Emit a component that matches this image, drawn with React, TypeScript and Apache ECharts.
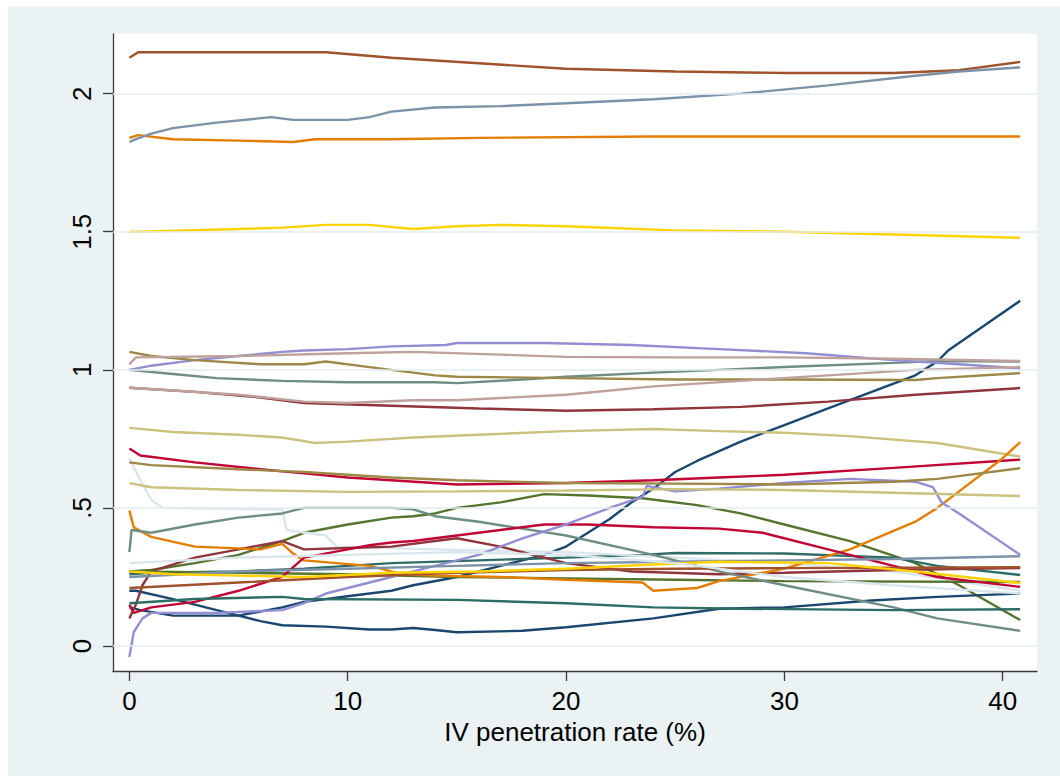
import React, { useEffect, useRef } from "react";
import * as echarts from "echarts";

type P = [number, number];

// Stata s2color palette
const COLORS = [
  "#1a476f", "#90353b", "#55752f", "#e37e00", "#6e8e84",
  "#c10534", "#938dd2", "#cac27e", "#a0522d", "#7b92a8",
  "#2d6d66", "#9c8847", "#bfa19c", "#ffd200", "#d9e6eb",
];

const X_TICKS = [0, 10, 20, 30, 40];
const Y_TICKS = [0, 0.5, 1, 1.5, 2];
const Y_TICK_LABELS = ["0", ".5", "1", "1.5", "2"];
const X_TITLE = "IV penetration rate (%)";

// cycle 1
const navyA: P[] = [[0,0.14],[0.5,0.13],[2,0.11],[5,0.11],[7,0.14],[8,0.16],[10,0.18],[12,0.2],[13,0.22],[15,0.25],[17,0.29],[19,0.33],[20,0.36],[21,0.41],[22,0.46],[23,0.52],[24,0.57],[25,0.63],[26,0.67],[28,0.74],[30,0.8],[32,0.86],[34,0.92],[36,0.98],[37,1.03],[37.5,1.07],[40.8,1.25]];
const maroonA: P[] = [[0,0.935],[3,0.92],[6,0.9],[8,0.88],[12,0.87],[16,0.86],[20,0.852],[24,0.857],[28,0.866],[32,0.885],[36,0.91],[40.8,0.934]];
const forestA: P[] = [[0,0.27],[1,0.275],[3,0.3],[5,0.33],[7,0.38],[8,0.41],[10,0.44],[12,0.465],[13,0.47],[14,0.48],[15,0.5],[17,0.52],[19,0.55],[21,0.545],[23.5,0.535],[26,0.51],[28,0.48],[30,0.44],[33,0.38],[36,0.3],[38,0.22],[40.8,0.094]];
const orangeA: P[] = [[0,1.84],[0.4,1.85],[2,1.835],[5,1.83],[7.5,1.825],[8.5,1.835],[12,1.835],[16,1.84],[24,1.845],[30,1.845],[40.8,1.845]];
const tealA: P[] = [[0,1.0],[2,0.985],[4,0.97],[7,0.96],[10,0.955],[14,0.955],[15,0.952],[18,0.965],[20,0.975],[24,0.99],[27,1.0],[30,1.01],[35,1.025],[37,1.032],[40.8,1.03]];
const cranberryA: P[] = [[0,0.715],[0.5,0.69],[3,0.665],[6,0.64],[8,0.625],[10,0.61],[12,0.6],[15,0.585],[20,0.59],[24,0.6],[27,0.61],[30,0.62],[35,0.645],[40.8,0.675]];
const lavenderA: P[] = [[0,1.0],[1,1.015],[3,1.035],[5,1.05],[7,1.065],[8,1.07],[10,1.075],[12,1.085],[14.5,1.09],[15,1.097],[19,1.097],[23,1.09],[27,1.075],[31,1.06],[35,1.035],[38,1.02],[40.8,1.005]];
const khakiA: P[] = [[0,0.79],[2,0.775],[5,0.765],[7,0.755],[8.5,0.735],[10,0.74],[13,0.755],[16,0.765],[20,0.778],[24,0.786],[27,0.778],[30,0.772],[33,0.76],[37,0.735],[40.8,0.686]];
const siennaA: P[] = [[0,2.13],[0.4,2.15],[5,2.15],[9,2.15],[12,2.13],[16,2.11],[20,2.09],[25,2.08],[30,2.075],[35,2.075],[38,2.085],[40.8,2.115]];
const emidblueA: P[] = [[0,1.825],[0.3,1.835],[1,1.855],[2,1.875],[4,1.895],[6.5,1.915],[7.5,1.905],[10,1.905],[11,1.915],[12,1.935],[14,1.95],[17,1.955],[20,1.965],[24,1.98],[28,2.0],[32,2.03],[36,2.065],[38,2.08],[40.8,2.095]];
const emeraldA: P[] = [[0,0.26],[1,0.265],[5,0.27],[8,0.28],[12,0.3],[16,0.31],[20,0.32],[23.5,0.33],[25,0.337],[30,0.335],[35,0.32],[37,0.29],[40.8,0.257]];
const brownA: P[] = [[0,1.065],[1,1.05],[3,1.035],[6,1.02],[8,1.02],[9,1.03],[11,1.01],[13,0.99],[14,0.98],[15,0.975],[20,0.97],[25,0.965],[30,0.965],[36,0.963],[37,0.97],[40.8,0.988]];
const eroseA: P[] = [[0,1.02],[0.3,1.045],[5,1.05],[10,1.06],[13,1.065],[17,1.055],[20,1.047],[25,1.045],[30,1.045],[35,1.04],[40.8,1.032]];
const goldA: P[] = [[0,1.5],[0.5,1.5],[5,1.51],[7,1.515],[9,1.525],[11,1.525],[13,1.51],[15,1.52],[17,1.525],[20,1.52],[25,1.505],[30,1.5],[35,1.49],[40.8,1.478]];
const bluishgrayA: P[] = [[0,0.68],[0.5,0.6],[1,0.53],[1.5,0.5],[7,0.495],[7.2,0.42],[9,0.4],[9.5,0.36],[14,0.35],[20,0.34],[25,0.32],[30,0.3],[35,0.27],[40.8,0.2]];

// cycle 2
const navyB: P[] = [[0,0.2],[0.3,0.2],[2,0.17],[4,0.13],[6,0.09],[7,0.075],[9,0.07],[11,0.06],[12,0.06],[13,0.065],[14,0.058],[15,0.05],[18,0.055],[20,0.068],[24,0.1],[27,0.135],[30,0.14],[34,0.165],[37,0.178],[40.8,0.19]];
const maroonB: P[] = [[0,0.1],[0.3,0.15],[0.6,0.22],[1,0.27],[3,0.32],[5,0.35],[7,0.38],[8,0.35],[10,0.355],[12,0.36],[14,0.38],[15,0.39],[17,0.36],[20,0.3],[23,0.27],[27,0.26],[30,0.265],[35,0.275],[40.8,0.282]];
const forestB: P[] = [[0,0.27],[5,0.265],[10,0.26],[15,0.25],[20,0.245],[25,0.24],[30,0.235],[40.8,0.232]];
const orangeB: P[] = [[0,0.49],[0.2,0.43],[1,0.395],[3,0.36],[6,0.35],[7,0.37],[7.5,0.335],[8,0.31],[11,0.29],[12.5,0.26],[14,0.255],[17,0.25],[20,0.24],[23.5,0.23],[24,0.2],[26,0.21],[27,0.235],[30,0.28],[33,0.35],[36,0.45],[37,0.5],[38,0.56],[40,0.68],[40.8,0.738]];
const tealB: P[] = [[0,0.34],[0.1,0.42],[1,0.41],[3,0.44],[5,0.465],[7,0.48],[8,0.5],[12,0.5],[13,0.495],[14,0.47],[16,0.45],[20,0.4],[24,0.33],[27,0.27],[30,0.22],[35,0.14],[37,0.1],[40.8,0.055]];
const cranberryB: P[] = [[0,0.15],[0.2,0.12],[1,0.14],[3,0.16],[5,0.2],[7,0.25],[8,0.32],[10,0.35],[11,0.365],[12,0.375],[13,0.38],[14,0.39],[16,0.41],[19,0.44],[21,0.44],[24,0.43],[27,0.425],[29,0.41],[32,0.35],[35,0.29],[37,0.25],[40.8,0.214]];
const lavenderB: P[] = [[0,-0.04],[0.2,0.05],[0.6,0.1],[1,0.12],[4,0.12],[7,0.13],[8,0.155],[9,0.19],[10,0.21],[12,0.25],[13,0.27],[16,0.33],[18,0.39],[20,0.44],[22,0.5],[23.5,0.54],[23.7,0.58],[25,0.56],[27,0.57],[30,0.59],[33,0.605],[36,0.595],[36.8,0.575],[37.2,0.52],[38,0.48],[40.8,0.33]];
const khakiB: P[] = [[0,0.59],[1,0.575],[5,0.565],[10,0.558],[15,0.56],[20,0.563],[25,0.568],[30,0.565],[35,0.555],[40.8,0.543]];
const siennaB: P[] = [[0,0.21],[5,0.23],[10,0.25],[15,0.265],[20,0.275],[25,0.28],[30,0.282],[40.8,0.285]];
const emidblueB: P[] = [[0,0.25],[5,0.27],[10,0.28],[15,0.29],[20,0.3],[25,0.305],[30,0.31],[35,0.315],[40.8,0.325]];
const emeraldB: P[] = [[0,0.155],[3,0.17],[7,0.178],[8,0.17],[15,0.167],[20,0.155],[24,0.14],[28,0.135],[35,0.13],[40.8,0.133]];
const brownB: P[] = [[0,0.665],[1,0.655],[5,0.64],[8,0.63],[12,0.61],[15,0.6],[20,0.59],[25,0.588],[30,0.585],[35,0.595],[37,0.605],[40.8,0.644]];
const eroseB: P[] = [[0,0.935],[2,0.925],[5,0.91],[8,0.885],[10,0.88],[13,0.89],[15,0.89],[20,0.91],[24,0.94],[28,0.96],[32,0.98],[36,1.0],[40.8,1.01]];
const goldB: P[] = [[0,0.27],[2,0.26],[5,0.255],[8,0.25],[12,0.265],[16,0.27],[20,0.28],[24,0.295],[27,0.305],[32,0.3],[36,0.27],[40.8,0.228]];
const bluishgrayB: P[] = [[0,0.3],[5,0.32],[10,0.33],[15,0.34],[20,0.33],[25,0.3],[30,0.25],[35,0.22],[40.8,0.19]];

const SERIES: P[][] = [
  navyA, maroonA, forestA, orangeA, tealA, cranberryA, lavenderA, khakiA,
  siennaA, emidblueA, emeraldA, brownA, eroseA, goldA, bluishgrayA,
  navyB, maroonB, forestB, orangeB, tealB, cranberryB, lavenderB, khakiB,
  siennaB, emidblueB, emeraldB, brownB, eroseB, goldB, bluishgrayB,
];

const FONT = "'Liberation Sans', Arial, sans-serif";

export default function App() {
  const ref = useRef<HTMLDivElement>(null);
  useEffect(() => {
    if (!ref.current) return;
    const chart = echarts.init(ref.current, undefined, { renderer: "svg" });
    const lines = SERIES.map((data, i) => ({
      type: "line",
      data,
      showSymbol: false,
      symbol: "none",
      z: 3,
      lineStyle: { color: COLORS[i % COLORS.length], width: 2.4 },
      itemStyle: { color: COLORS[i % COLORS.length] },
    }));
    chart.setOption({
      animation: false,
      backgroundColor: "#eaf2f3",
      grid: {
        left: 105, top: 28, width: 924, height: 637,
        show: true, backgroundColor: "#ffffff", borderWidth: 0,
      },
      xAxis: {
        type: "value",
        min: -0.75,
        max: 41.57,
        name: X_TITLE,
        nameLocation: "middle",
        nameGap: 40,
        nameTextStyle: { fontFamily: FONT, fontSize: 26, color: "#000" },
        axisLine: { show: true, onZero: false, lineStyle: { color: "#3a3a3a", width: 1.3 } },
        axisTick: { show: true, length: 10, customValues: X_TICKS, lineStyle: { color: "#3a3a3a", width: 1.3 } },
        axisLabel: {
          customValues: X_TICKS, margin: 17,
          fontFamily: FONT, fontSize: 26, color: "#000",
          formatter: (v: number) => String(v),
        },
        splitLine: { show: false },
      },
      yAxis: {
        type: "value",
        min: -0.0905,
        max: 2.216,
        axisLine: { show: true, onZero: false, lineStyle: { color: "#3a3a3a", width: 1.3 } },
        axisTick: { show: true, length: 10, customValues: Y_TICKS, lineStyle: { color: "#3a3a3a", width: 1.3 } },
        axisLabel: {
          customValues: Y_TICKS, margin: 18, rotate: 90,
          fontFamily: FONT, fontSize: 26, color: "#000",
          formatter: (v: number) => {
            const idx = Y_TICKS.findIndex((t) => Math.abs(t - v) < 1e-6);
            return idx >= 0 ? Y_TICK_LABELS[idx] : "";
          },
        },
        splitLine: { show: false },
      },
      series: [
        {
          type: "line",
          data: Y_TICKS.map((v) => [0, v]),
          showSymbol: false,
          symbol: "none",
          lineStyle: { width: 0, opacity: 0 },
          z: 1,
          silent: true,
          markLine: {
            silent: true,
            symbol: ["none", "none"],
            label: { show: false },
            lineStyle: { color: "#e3edf0", width: 1.5, type: "solid" },
            data: Y_TICKS.map((v) => ({ yAxis: v })),
          },
        },
        ...lines,
      ],
    });
    return () => chart.dispose();
  }, []);
  return (
    <div style={{ position: "absolute", left: 8, top: 6, width: 1052, height: 770, background: "#eaf2f3" }}>
      <div ref={ref} style={{ width: 1052, height: 770 }} />
    </div>
  );
}
